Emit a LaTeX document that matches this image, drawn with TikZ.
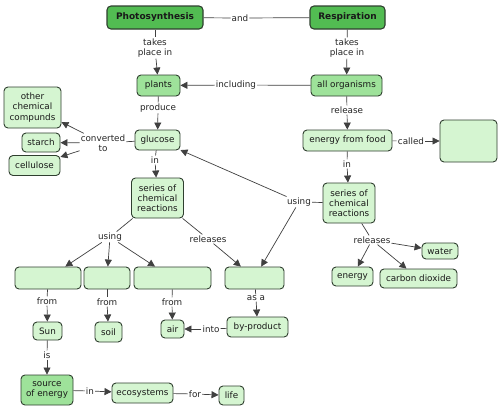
\documentclass[tikz,border=0pt]{standalone}
\usepackage{fontspec}
\setmainfont{DejaVu Sans}
\usetikzlibrary{arrows.meta}
\definecolor{dk}{HTML}{52BC52}
\definecolor{md}{HTML}{9EE29A}
\definecolor{lt}{HTML}{D5F5D1}
\definecolor{bd}{HTML}{2F3F2F}
\begin{document}
\begin{tikzpicture}[x=1pt,y=-1pt,
 box/.style={draw=bd, line width=0.9pt, rounded corners=4pt, align=center, font=\fontsize{8.8}{10.2}\selectfont, inner sep=1.5pt, text=black!90},
 lbox/.style={box, fill=lt},
 mbox/.style={box, fill=md},
 dbox/.style={box, fill=dk, font=\bfseries\fontsize{9}{10}\selectfont, line width=1.1pt},
 lab/.style={fill=white, inner sep=1pt, align=center, font=\fontsize{8.8}{10.2}\selectfont, text=black!85},
 con/.style={draw=black!75, line width=0.7pt},
 arr/.style={con, -{Triangle[length=7pt,width=7pt]}},
]
\useasboundingbox[fill=white] (0,0) rectangle (500,408);
% concepts
\node[dbox, minimum width=96, minimum height=23] (P) at (155,17.5) {Photosynthesis};
\node[dbox, minimum width=75, minimum height=23] (R) at (347.5,17.5) {Respiration};
\node[mbox, minimum width=43, minimum height=21] (plants) at (158.5,85.5) {plants};
\node[mbox, minimum width=71, minimum height=21] (allorg) at (346.5,85.5) {all organisms};
\node[lbox, minimum width=45, minimum height=20] (glucose) at (157.5,140) {glucose};
\node[lbox, minimum width=89, minimum height=21] (efood) at (347.5,140.5) {energy from food};
\node[lbox, minimum width=57, minimum height=42] (blank1) at (468.5,141) {};
\node[lbox, minimum width=52, minimum height=40] (sL) at (157.5,198) {series of\\chemical\\reactions};
\node[lbox, minimum width=52, minimum height=40] (sR) at (349,203) {series of\\chemical\\reactions};
\node[lbox, minimum width=57, minimum height=41] (other) at (32.5,107.5) {other\\chemical\\compunds};
\node[lbox, minimum width=38, minimum height=19] (starch) at (41,142.5) {starch};
\node[lbox, minimum width=51, minimum height=20] (cellulose) at (34.5,165.5) {cellulose};
\node[lbox, minimum width=66, minimum height=22] (b1) at (48,278) {};
\node[lbox, minimum width=46, minimum height=22] (b2) at (107,278) {};
\node[lbox, minimum width=77, minimum height=22] (b3) at (172.5,278) {};
\node[lbox, minimum width=59, minimum height=22] (b4) at (254.5,278) {};
\node[lbox, minimum width=29, minimum height=18] (sun) at (47.5,331) {Sun};
\node[lbox, minimum width=27, minimum height=20] (soil) at (108.5,332) {soil};
\node[lbox, minimum width=23, minimum height=18] (air) at (172.5,329) {air};
\node[lbox, minimum width=61, minimum height=20] (byp) at (257.5,327) {by-product};
\node[mbox, minimum width=52, minimum height=30] (soe) at (47,390) {source\\of energy};
\node[lbox, minimum width=61, minimum height=20] (eco) at (142.5,393) {ecosystems};
\node[lbox, minimum width=25, minimum height=19] (life) at (231.5,395.5) {life};
\node[lbox, minimum width=36, minimum height=16] (water) at (440,251) {water};
\node[lbox, minimum width=41, minimum height=19] (energy) at (352.5,276.5) {energy};
\node[lbox, minimum width=77, minimum height=19] (co2) at (418.5,278.5) {carbon dioxide};
% labels
\node[lab] (and) at (240,18) {and};
\node[lab] (tp1) at (155,48) {takes\\place in};
\node[lab] (tp2) at (347,48) {takes\\place in};
\node[lab] (incl) at (236,85) {including};
\node[lab] (prod) at (158,108) {produce};
\node[lab] (rel) at (347,110) {release};
\node[lab] (called) at (411,141) {called};
\node[lab] (in1) at (155,160) {in};
\node[lab] (in2) at (347,164) {in};
\node[lab] (usingR) at (299,202) {using};
\node[lab] (conv) at (103,143) {converted\\to};
\node[lab] (usingL) at (110,237) {using};
\node[lab] (relL) at (208,239) {releases};
\node[lab] (f1) at (47,301) {from};
\node[lab] (f2) at (107,302) {from};
\node[lab] (f3) at (172,302) {from};
\node[lab] (into) at (211,329) {into};
\node[lab] (asa) at (256,298) {as a};
\node[lab] (is) at (47,355) {is};
\node[lab] (in3) at (90,391) {in};
\node[lab] (for) at (195,394) {for};
\node[lab] (relR) at (372,240) {releases};
% connectors
\draw[con] (P) -- (and); \draw[con] (and) -- (R);
\draw[con] (P) -- (tp1); \draw[arr] (tp1) -- (plants);
\draw[con] (R) -- (tp2); \draw[arr] (tp2) -- (allorg);
\draw[con] (allorg) -- (incl); \draw[arr] (incl) -- (plants);
\draw[con] (plants) -- (prod); \draw[arr] (prod) -- (glucose);
\draw[con] (allorg) -- (rel); \draw[arr] (rel) -- (efood);
\draw[con] (efood) -- (called); \draw[arr] (called) -- (blank1);
\draw[con] (glucose) -- (in1); \draw[arr] (in1) -- (sL);
\draw[con] (efood) -- (in2); \draw[arr] (in2) -- (sR);
\draw[con] (sR) -- (usingR); \draw[arr] (usingR) -- (glucose); \draw[arr] (usingR) -- (b4);
\draw[con] (glucose) -- (conv);
\draw[arr] (conv) -- (other); \draw[arr] (conv) -- (starch); \draw[arr] (conv) -- (cellulose);
\draw[con] (sL) -- (usingL);
\draw[arr] (usingL) -- (b1); \draw[arr] (usingL) -- (b2); \draw[arr] (usingL) -- (b3);
\draw[con] (sL) -- (relL); \draw[arr] (relL) -- (b4);
\draw[con] (b1) -- (f1); \draw[arr] (f1) -- (sun);
\draw[con] (b2) -- (f2); \draw[arr] (f2) -- (soil);
\draw[con] (b3) -- (f3); \draw[arr] (f3) -- (air);
\draw[con] (b4) -- (asa); \draw[arr] (asa) -- (byp);
\draw[con] (byp) -- (into); \draw[arr] (into) -- (air);
\draw[con] (sun) -- (is); \draw[arr] (is) -- (soe);
\draw[con] (soe) -- (in3); \draw[arr] (in3) -- (eco);
\draw[con] (eco) -- (for); \draw[arr] (for) -- (life);
\draw[con] (sR) -- (relR);
\draw[arr] (relR) -- (water); \draw[arr] (relR) -- (energy); \draw[arr] (relR) -- (co2);
\end{tikzpicture}
\end{document}
